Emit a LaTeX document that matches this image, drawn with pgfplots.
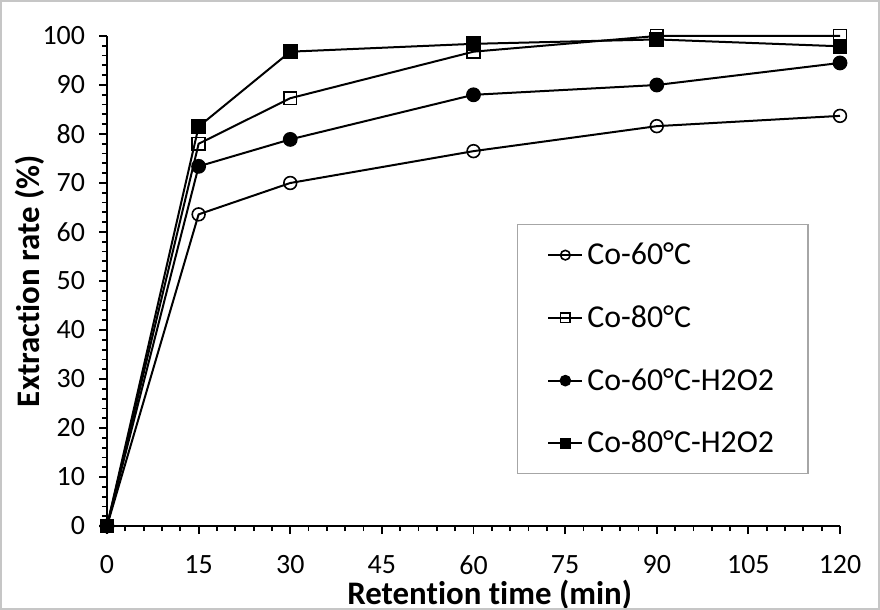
\documentclass[border=0pt]{standalone}
\usepackage{pgfplots}
\pgfplotsset{compat=1.18}
\usepackage{fontspec}
\setmainfont{Carlito}[Ligatures=NoCommon]

% Extraction rate of Co versus retention time
\pgfplotstableread{
t   c60   c80   c60h  c80h
0   0     0     0     0
15  63.6  78.0  73.4  81.5
30  70.0  87.3  78.9  96.8
60  76.5  96.8  88.0  98.4
90  81.6  100   90.0  99.3
120 83.7  100   94.5  97.9
}\datatable

\begin{document}
\begin{tikzpicture}
\begin{axis}[
  scale only axis,
  width=366.5bp, height=245bp,
  xmin=0, xmax=120, ymin=0, ymax=100,
  axis lines*=left,
  axis line style={line width=1bp, black},
  clip=false,
  xtick={0,15,...,120},
  ytick={0,10,...,100},
  minor x tick num=4,
  minor y tick num=4,
  tick align=outside,
  major tick length=4bp,
  minor tick length=2.6bp,
  tick style={line width=0.9bp, black},
  /pgf/number format/assume math mode=true,
  ticklabel style={font=\fontsize{14}{16}\selectfont},
  xticklabel style={inner sep=0.5bp, yshift=-10bp},
  yticklabel style={xshift=-3.5bp},
  xlabel={\textbf{Retention time (min)}},
  ylabel={\textbf{Extraction rate (\%)}},
  every axis x label/.style={at={(rel axis cs:0.522,0)}, anchor=base, inner sep=0pt, yshift=-39bp, font=\fontsize{16.5}{19}\selectfont},
  every axis y label/.style={at={(rel axis cs:0,0.5)}, anchor=center, rotate=90, yshift=38.5bp, font=\fontsize{16.5}{19}\selectfont},
  legend cell align=left,
  legend style={at={(rel axis cs:0.559,0.616)}, anchor=north west,
    draw=gray!70, line width=0.6bp,
    font=\fontsize{16}{19}\selectfont,
    inner xsep=15bp, inner ysep=7bp, row sep=15bp},
  legend image code/.code={
    \draw[mark repeat=2, mark phase=2, mark size=2.4bp] plot coordinates {(0cm,0cm) (0.3cm,0cm) (0.6cm,0cm)};
  },
  every axis plot/.append style={line width=1bp, black, mark size=3.2bp},
]
\addplot[mark=o, mark options={fill=white, line width=0.8bp}] table[x=t, y=c60] {\datatable};
\addlegendentry{Co-60°C}
\addplot[mark=square, mark options={fill=white, line width=0.8bp}] table[x=t, y=c80] {\datatable};
\addlegendentry{Co-80°C}
\addplot[mark=*, mark options={fill=black}] table[x=t, y=c60h] {\datatable};
\addlegendentry{Co-60°C-H2O2}
\addplot[mark=square*, mark options={fill=black}] table[x=t, y=c80h] {\datatable};
\addlegendentry{Co-80°C-H2O2}
\end{axis}
\draw[gray!45, line width=0.8bp] (-53.1bp,-41.6bp) rectangle (386.1bp,262.6bp);
\end{tikzpicture}
\end{document}
